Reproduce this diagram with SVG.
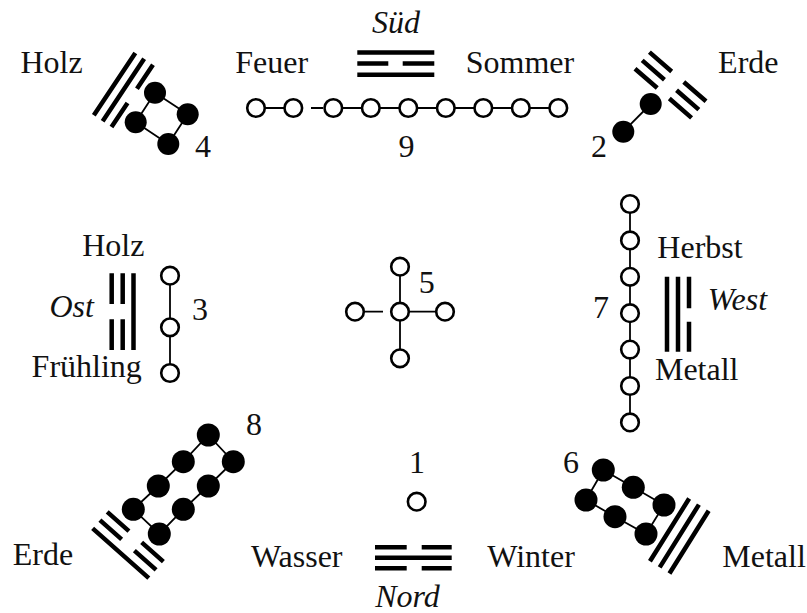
<svg xmlns="http://www.w3.org/2000/svg" width="807" height="613" viewBox="0 0 807 613">
<defs>
<style>
.t{font-family:"Liberation Serif","Times New Roman",serif;font-size:32px;fill:#111;text-anchor:middle}
.i{font-style:italic}
.tri{stroke:#000;stroke-width:4.5;fill:none}
.c{fill:#fff;stroke:#000;stroke-width:2.6}
.d{fill:#000}
.k{stroke:#000;stroke-width:1.8;fill:none}
</style>
</defs>
<rect width="807" height="613" fill="#fff"/>

<g id="connectors" class="k">
  <!-- 4 -->
  <path d="M155,92.7 L187.7,114.3 L168.3,144 L135.7,122.3 Z"/>
  <!-- 2 -->
  <path d="M650.7,104 L623.3,131.7"/>
  <!-- 9 -->
  <path d="M256,108 H293.3 M311,108 H323 M333.3,108 H558.3"/>
  <!-- 3 -->
  <path d="M170,275.7 V373"/>
  <!-- 5 -->
  <path d="M400,266.7 V358.3 M400,311.7 H445 M365,311.7 H383"/>
  <!-- 7 -->
  <path d="M630,204 V422.4"/>
  <!-- 8 -->
  <path d="M208.3,435 L233.3,461.7 L208.3,486 L183.3,509.3 L159.3,534 L133.3,509.3 L158.3,486 L183.3,461.7 Z"/>
  <!-- 6 -->
  <path d="M603.3,470 L633.3,487.3 L664,505 L646,534 L615,516.7 L586,500 Z"/>
</g>

<g id="n4-holz">
  <text class="t" x="51.5" y="73">Holz</text>
  <g class="tri" transform="translate(123.4,90) rotate(-56.4)">
    <path d="M-37.5,-10.6 H37.5 M-37.5,0 H37.5 M-37.5,10.6 H-8.5 M8.5,10.6 H37.5"/>
  </g>
  <circle class="d" cx="155" cy="92.7" r="11"/>
  <circle class="d" cx="187.7" cy="114.3" r="11"/>
  <circle class="d" cx="135.7" cy="122.3" r="11"/>
  <circle class="d" cx="168.3" cy="144" r="11"/>
  <text class="t" x="203" y="157">4</text>
</g>

<g id="n9-sued">
  <text class="t i" x="396" y="33">Süd</text>
  <text class="t" x="271.7" y="73">Feuer</text>
  <text class="t" x="520" y="73">Sommer</text>
  <g class="tri">
    <path d="M357.3,52.5 H434.3 M357.3,63.6 H388.3 M402.7,63.6 H434.3 M357.3,74.7 H434.3"/>
  </g>
  <circle class="c" cx="256" cy="108" r="8.8"/>
  <circle class="c" cx="293.3" cy="108" r="8.8"/>
  <circle class="c" cx="333.3" cy="108" r="8.8"/>
  <circle class="c" cx="370.8" cy="108" r="8.8"/>
  <circle class="c" cx="408.3" cy="108" r="8.8"/>
  <circle class="c" cx="445.8" cy="108" r="8.8"/>
  <circle class="c" cx="483.3" cy="108" r="8.8"/>
  <circle class="c" cx="520.8" cy="108" r="8.8"/>
  <circle class="c" cx="558.3" cy="108" r="8.8"/>
  <text class="t" x="406.5" y="157">9</text>
</g>

<g id="n2-erde">
  <text class="t" x="748.3" y="73">Erde</text>
  <g class="tri" transform="translate(670.5,85) rotate(41)">
    <path d="M-37.5,-11 H-8 M8,-11 H37.5 M-37.5,0 H-8 M8,0 H37.5 M-37.5,11 H-8 M8,11 H37.5"/>
  </g>
  <circle class="d" cx="650.7" cy="104" r="11"/>
  <circle class="d" cx="623.3" cy="131.7" r="11"/>
  <text class="t" x="599" y="157">2</text>
</g>

<g id="n3-holz-ost">
  <text class="t" x="113.3" y="256">Holz</text>
  <text class="t i" x="71.7" y="316.7">Ost</text>
  <text class="t" x="86.7" y="376.7">Frühling</text>
  <g class="tri">
    <path d="M111.7,273.3 V304 M111.7,319.3 V350 M122.7,273.3 V304 M122.7,319.3 V350 M133.5,273.3 V350"/>
  </g>
  <circle class="c" cx="170" cy="275.7" r="8.8"/>
  <circle class="c" cx="170" cy="327.3" r="8.8"/>
  <circle class="c" cx="170" cy="373" r="8.8"/>
  <text class="t" x="200" y="320">3</text>
</g>

<g id="n5-mitte">
  <circle class="c" cx="400" cy="266.7" r="8.8"/>
  <circle class="c" cx="355" cy="311.7" r="8.8"/>
  <circle class="c" cx="400" cy="311.7" r="8.8"/>
  <circle class="c" cx="445" cy="311.7" r="8.8"/>
  <circle class="c" cx="400" cy="358.3" r="8.8"/>
  <text class="t" x="426.7" y="292.7">5</text>
</g>

<g id="n7-west">
  <text class="t" x="700" y="258.3">Herbst</text>
  <text class="t i" x="737.5" y="310">West</text>
  <text class="t" x="696.7" y="380">Metall</text>
  <g class="tri">
    <path d="M667,276.7 V351.7 M678,276.7 V351.7 M689,276.7 V308.3 M689,321.7 V351.7"/>
  </g>
  <circle class="c" cx="630" cy="204" r="8.8"/>
  <circle class="c" cx="630" cy="240.4" r="8.8"/>
  <circle class="c" cx="630" cy="276.8" r="8.8"/>
  <circle class="c" cx="630" cy="313.2" r="8.8"/>
  <circle class="c" cx="630" cy="349.6" r="8.8"/>
  <circle class="c" cx="630" cy="386" r="8.8"/>
  <circle class="c" cx="630" cy="422.4" r="8.8"/>
  <text class="t" x="601" y="318.3">7</text>
</g>

<g id="n8-erde">
  <text class="t" x="43" y="565">Erde</text>
  <g class="tri" transform="translate(128,545) rotate(41.5)">
    <path d="M-37.5,-11 H-8.5 M8.5,-11 H37.5 M-37.5,0 H-8.5 M8.5,0 H37.5 M-37.5,11 H37.5"/>
  </g>
  <circle class="d" cx="208.3" cy="435" r="11.5"/>
  <circle class="d" cx="233.3" cy="461.7" r="11.5"/>
  <circle class="d" cx="183.3" cy="461.7" r="11.5"/>
  <circle class="d" cx="208.3" cy="486" r="11.5"/>
  <circle class="d" cx="158.3" cy="486" r="11.5"/>
  <circle class="d" cx="183.3" cy="509.3" r="11.5"/>
  <circle class="d" cx="133.3" cy="509.3" r="11.5"/>
  <circle class="d" cx="159.3" cy="534" r="11.5"/>
  <text class="t" x="254" y="435">8</text>
</g>

<g id="n1-nord">
  <text class="t" x="417" y="473">1</text>
  <circle class="c" cx="416.7" cy="501.7" r="8.8"/>
  <text class="t" x="296.7" y="566.7">Wasser</text>
  <text class="t" x="531" y="566.7">Winter</text>
  <g class="tri">
    <path d="M375,547.3 H406.7 M421.7,547.3 H451.7 M375,557.7 H451.7 M375,568.3 H406.7 M421.7,568.3 H451.7"/>
  </g>
  <text class="t i" x="407.5" y="606.7">Nord</text>
</g>

<g id="n6-metall">
  <text class="t" x="571" y="473.3">6</text>
  <circle class="d" cx="603.3" cy="470" r="11.5"/>
  <circle class="d" cx="633.3" cy="487.3" r="11.5"/>
  <circle class="d" cx="664" cy="505" r="11.5"/>
  <circle class="d" cx="586" cy="500" r="11.5"/>
  <circle class="d" cx="615" cy="516.7" r="11.5"/>
  <circle class="d" cx="646" cy="534" r="11.5"/>
  <g class="tri" transform="translate(679.3,536) rotate(-58)">
    <path d="M-37,-11.5 H37 M-37,0 H37 M-37,11.5 H37"/>
  </g>
  <text class="t" x="764" y="566.7">Metall</text>
</g>
</svg>
